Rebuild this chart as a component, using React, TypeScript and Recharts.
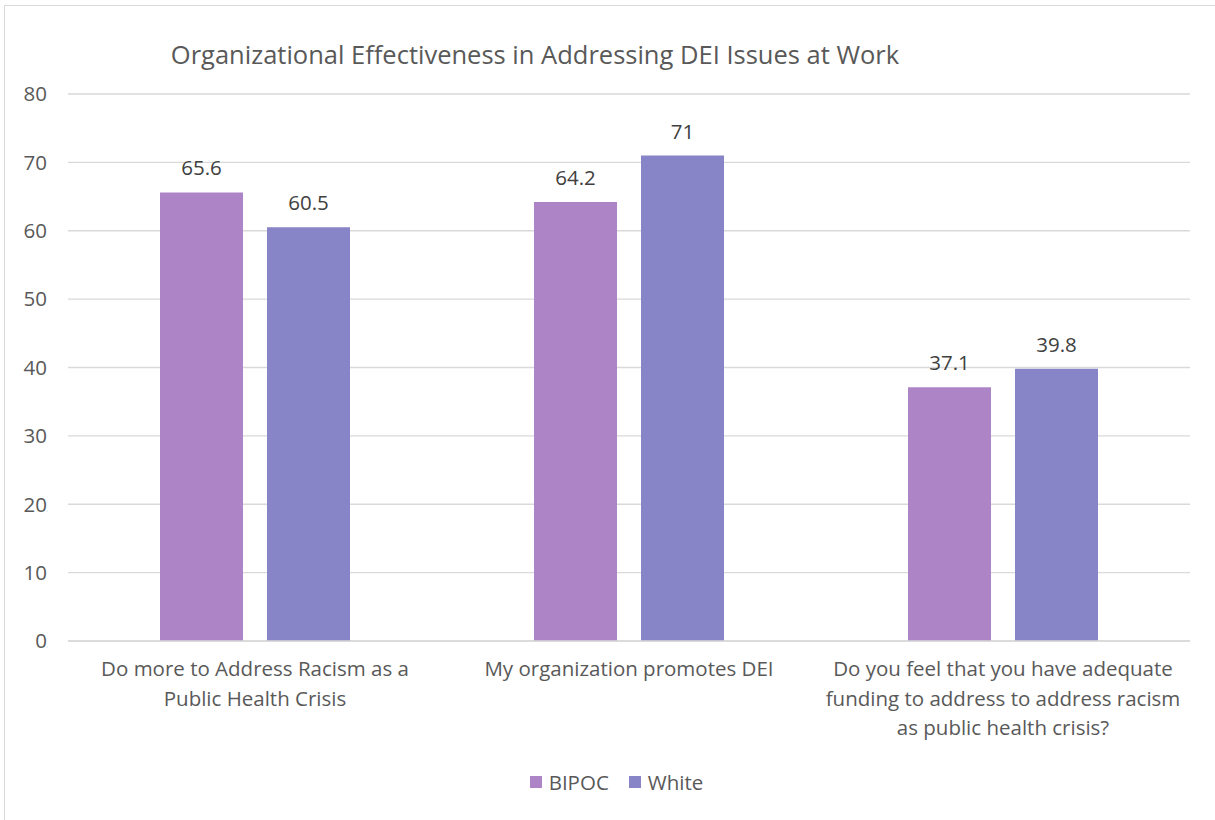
import { Bar, BarChart, CartesianGrid, LabelList, Legend, XAxis, YAxis } from "recharts";

const categories = [
  "Do more to Address Racism as a|Public Health Crisis",
  "My organization promotes DEI",
  "Do you feel that you have adequate|funding to address to address racism|as public health crisis?",
];
const bipoc = [65.6, 64.2, 37.1];
const white = [60.5, 71, 39.8];
const yTicks = [0, 10, 20, 30, 40, 50, 60, 70, 80];

const COLOR_BIPOC = "#AD84C6";
const COLOR_WHITE = "#8784C7";
const COLOR_GRID = "#D9D9D9";
const COLOR_TEXT = "#595959";
const FONT = "'Open Sans', sans-serif";

const rows = categories.map((c, i) => ({ name: c, bipoc: bipoc[i], white: white[i] }));

const WrappedTick = ({ x, y, payload }: any) => {
  const lines = String(payload.value).split("|");
  return (
    <text x={x} y={y} textAnchor="middle" fill={COLOR_TEXT} fontSize={20.5} fontFamily={FONT}>
      {lines.map((l, i) => (
        <tspan key={i} x={x} dy={i === 0 ? 27 : 29.5}>
          {l}
        </tspan>
      ))}
    </text>
  );
};

const LegendBox = ({ payload }: any) => (
  <div style={{ display: "flex", justifyContent: "center", alignItems: "center", gap: 20, paddingLeft: 43, fontFamily: FONT, fontSize: 20.5, color: COLOR_TEXT }}>
    {(payload || []).map((p: any) => (
      <div key={p.value} style={{ display: "flex", alignItems: "center", gap: 7 }}>
        <div style={{ width: 12, height: 12, background: p.color }} />
        <span>{p.value}</span>
      </div>
    ))}
  </div>
);

export default function App() {
  return (
    <div style={{ position: "absolute", left: 0, top: 0, width: 1215, height: 820, background: "#fff" }}>
      <div
        style={{
          position: "absolute",
          left: 4,
          top: 5,
          width: 1220,
          height: 830,
          border: "1px solid #D9D9D9",
          boxSizing: "border-box",
        }}
      />
      <div
        style={{
          position: "absolute",
          left: 0,
          top: 37,
          width: 1070,
          textAlign: "center",
          fontFamily: FONT,
          fontSize: 25.5,
          color: COLOR_TEXT,
        }}
      >
        Organizational Effectiveness in Addressing DEI Issues at Work
      </div>
      <div style={{ position: "absolute", left: 0, top: 0 }}>
        <BarChart
          width={1215}
          height={820}
          data={rows}
          margin={{ top: 94, right: 25, bottom: 24, left: 0 }}
          barSize={83}
          barGap={24}
        >
          <CartesianGrid stroke={COLOR_GRID} vertical={false} strokeWidth={1.3} />
          <XAxis
            dataKey="name"
            tick={<WrappedTick />}
            axisLine={{ stroke: COLOR_GRID, strokeWidth: 1.3 }}
            tickLine={false}
            interval={0}
            height={127}
          />
          <YAxis
            domain={[0, 80]}
            ticks={yTicks}
            width={68}
            axisLine={false}
            tickLine={false}
            tickSize={0}
            tickMargin={21}
            tick={{ fill: COLOR_TEXT, fontSize: 20.5, fontFamily: FONT }}
          />
          <Legend verticalAlign="bottom" align="center" content={<LegendBox />} />
          <Bar dataKey="bipoc" name="BIPOC" fill={COLOR_BIPOC} isAnimationActive={false}>
            <LabelList dataKey="bipoc" position="top" offset={17} fill="#404040" fontSize={20.5} fontFamily={FONT} />
          </Bar>
          <Bar dataKey="white" name="White" fill={COLOR_WHITE} isAnimationActive={false}>
            <LabelList dataKey="white" position="top" offset={17} fill="#404040" fontSize={20.5} fontFamily={FONT} />
          </Bar>
        </BarChart>
      </div>
    </div>
  );
}
